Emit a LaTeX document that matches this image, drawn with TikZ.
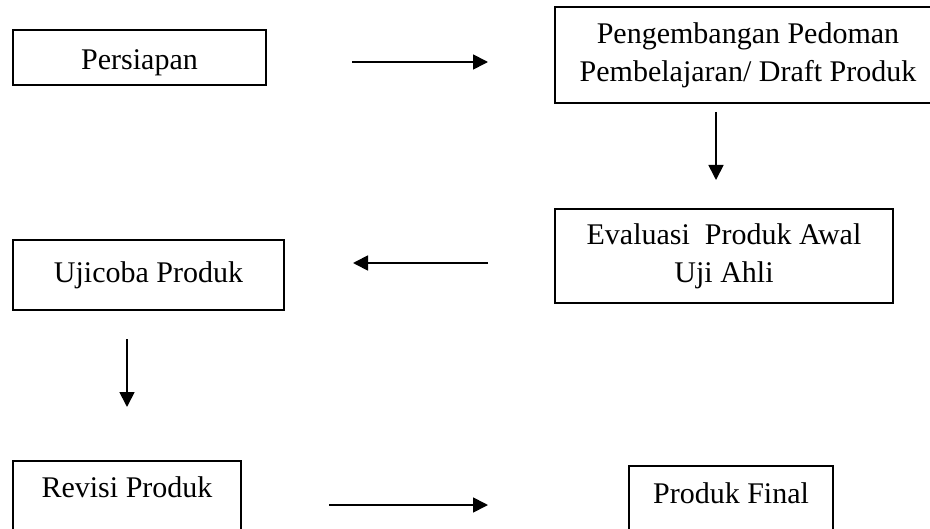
\documentclass[tikz,border=0pt]{standalone}
\usepackage{fontspec}
\setmainfont{Liberation Serif}
\usetikzlibrary{arrows.meta}

\begin{document}
\begin{tikzpicture}[x=0.5pt,y=-0.5pt,
  kotak/.style={draw,line width=0.9pt,align=center,inner sep=0pt,
    font=\fontsize{15}{19}\selectfont},
  panah/.style={-{Triangle[length=7.5pt,width=7.5pt]},line width=0.85pt}]
  \useasboundingbox (0,0) rectangle (930,529);
  % kotak-kotak tahap
  \node[kotak,minimum width=126.5pt,text height=20pt,text depth=7.5pt] (persiapan) at (139.5,57.5) {Persiapan};
  \node[kotak,minimum width=193pt,minimum height=48pt] (pengembangan) at (748,55)
    {Pengembangan Pedoman\\Pembelajaran/ Draft Produk};
  \node[kotak,minimum width=169pt,minimum height=47pt] (evaluasi) at (724,256)
    {Evaluasi~ Produk Awal\\Uji Ahli};
  \node[kotak,minimum width=135.5pt,minimum height=35pt] (ujicoba) at (148.5,275) {Ujicoba Produk};
  \node[kotak,anchor=north,minimum width=114pt,text height=18.3pt,text depth=30pt] (revisi) at (127,460) {Revisi Produk};
  \node[kotak,anchor=north,minimum width=102pt,text height=18.8pt,text depth=30pt] (final) at (731,465) {Produk Final};
  % ujung panah
  \coordinate (p1a) at (352,62);  \coordinate (p1b) at (488,62);
  \coordinate (p2a) at (716,112); \coordinate (p2b) at (716,180);
  \coordinate (p3a) at (488,263); \coordinate (p3b) at (353,263);
  \coordinate (p4a) at (127,339); \coordinate (p4b) at (127,407);
  \coordinate (p5a) at (329,505); \coordinate (p5b) at (488,505);
  \foreach \a/\b in {p1a/p1b,p2a/p2b,p3a/p3b,p4a/p4b,p5a/p5b}
    {\draw[panah] (\a) -- (\b);}
\end{tikzpicture}
\end{document}
